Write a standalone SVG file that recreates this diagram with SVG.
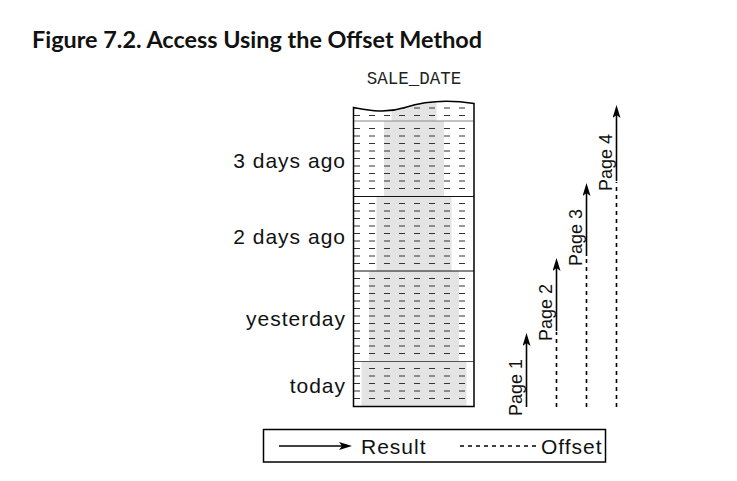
<svg xmlns="http://www.w3.org/2000/svg" width="737" height="481" viewBox="0 0 737 481">
<defs>
<style>
.lbl{font-family:"Liberation Sans",Arial,Helvetica,sans-serif;font-size:21px;letter-spacing:1px;fill:#111}
.pg{font-family:"Liberation Sans",Arial,Helvetica,sans-serif;font-size:18px;fill:#111}
.title{font-family:Lato,"Open Sans",sans-serif;font-weight:700;font-size:23.4px;fill:#111}
.mono{font-family:"Liberation Mono","Courier New",monospace;font-size:17.5px;fill:#222}
.shade{fill:#e4e4e4}
.rows{stroke:#333;stroke-width:1;stroke-dasharray:6 9;fill:none}
.sep{stroke:#111;stroke-width:1;fill:none}
.res{stroke:#000;stroke-width:1.6;fill:none;marker-end:url(#ah)}
.off{stroke:#000;stroke-width:1.6;stroke-dasharray:4 4;fill:none}
.frame{stroke:#000;stroke-width:1.5;fill:none}
</style>
<marker id="ah" viewBox="0 0 13 8" refX="7" refY="4" markerWidth="13" markerHeight="8" markerUnits="userSpaceOnUse" orient="auto"><path d="M0,0 L13,4 L0,8 L3,4 z" fill="#000"/></marker>
<clipPath id="tc"><path d="M353.5,107.5 C372,111 386,113.5 405,107.5 C425,101 446,99 474,103.5 V406.5 H353.5 Z"/></clipPath>
</defs>
<rect width="737" height="481" fill="#fff"/>
<g id="title"><text class="title" x="32" y="47.5">Figure 7.2. Access Using the Offset Method</text></g>
<g id="sale-date-table">
<text class="mono" x="414" y="84" text-anchor="middle">SALE_DATE</text>
<g clip-path="url(#tc)">
<rect class="shade" x="391.5" y="95" width="45" height="26"/>
<rect class="shade" x="384" y="121" width="60" height="75.5"/>
<rect class="shade" x="376.5" y="196.5" width="75" height="74.5"/>
<rect class="shade" x="369" y="271" width="90" height="90.5"/>
<rect class="shade" x="361.5" y="361.5" width="105" height="45"/>
<path class="rows" d="M354 108H474M354 115.5H474M354 128.5H474M354 136H474M354 143.5H474M354 151H474M354 158.5H474M354 166H474M354 173.5H474M354 181H474M354 188.5H474M354 203.5H474M354 211H474M354 218.5H474M354 226H474M354 233.5H474M354 241H474M354 248.5H474M354 256H474M354 263.5H474M354 278.5H474M354 286H474M354 293.5H474M354 301H474M354 308.5H474M354 316H474M354 323.5H474M354 331H474M354 338.5H474M354 346H474M354 353.5H474M354 368.5H474M354 376H474M354 383.5H474M354 391H474M354 398.5H474"/>
</g>
<path class="sep" style="stroke:#888" d="M353.5 121H474"/>
<path class="sep" d="M353.5 196.5H474M353.5 271H474"/>
<path class="sep" style="stroke:#555" d="M353.5 361.5H474"/>
<path class="frame" d="M353.5,107.5 C372,111 386,113.5 405,107.5 C425,101 446,99 474,103.5 V406.5 H353.5 Z"/>
</g>
<g id="day-labels">
<text class="lbl" x="346" y="168" text-anchor="end">3 days ago</text>
<text class="lbl" x="346" y="243.5" text-anchor="end">2 days ago</text>
<text class="lbl" x="346" y="326" text-anchor="end">yesterday</text>
<text class="lbl" x="346" y="393" text-anchor="end">today</text>
</g>
<g id="connectors">
<path class="res" d="M526.5 407V339"/>
<path class="off" d="M556.5 407V332"/>
<path class="res" d="M556.5 331V264"/>
<path class="off" d="M586.5 407V257"/>
<path class="res" d="M586.5 256V189"/>
<path class="off" d="M616.5 407V182"/>
<path class="res" d="M616.5 181V111"/>
</g>
<g id="page-1"><text class="pg" transform="translate(522,416) rotate(-90)">Page 1</text></g>
<g id="page-2"><text class="pg" transform="translate(552,341) rotate(-90)">Page 2</text></g>
<g id="page-3"><text class="pg" transform="translate(582,266) rotate(-90)">Page 3</text></g>
<g id="page-4"><text class="pg" transform="translate(612,191) rotate(-90)">Page 4</text></g>
<g id="legend">
<rect class="frame" x="263.5" y="429.5" width="342" height="32.5"/>
<path class="res" d="M279 446H346"/>
<text class="lbl" x="361" y="453.5">Result</text>
<path class="off" d="M460 446H537"/>
<text class="lbl" x="541" y="453.5">Offset</text>
</g>
</svg>
